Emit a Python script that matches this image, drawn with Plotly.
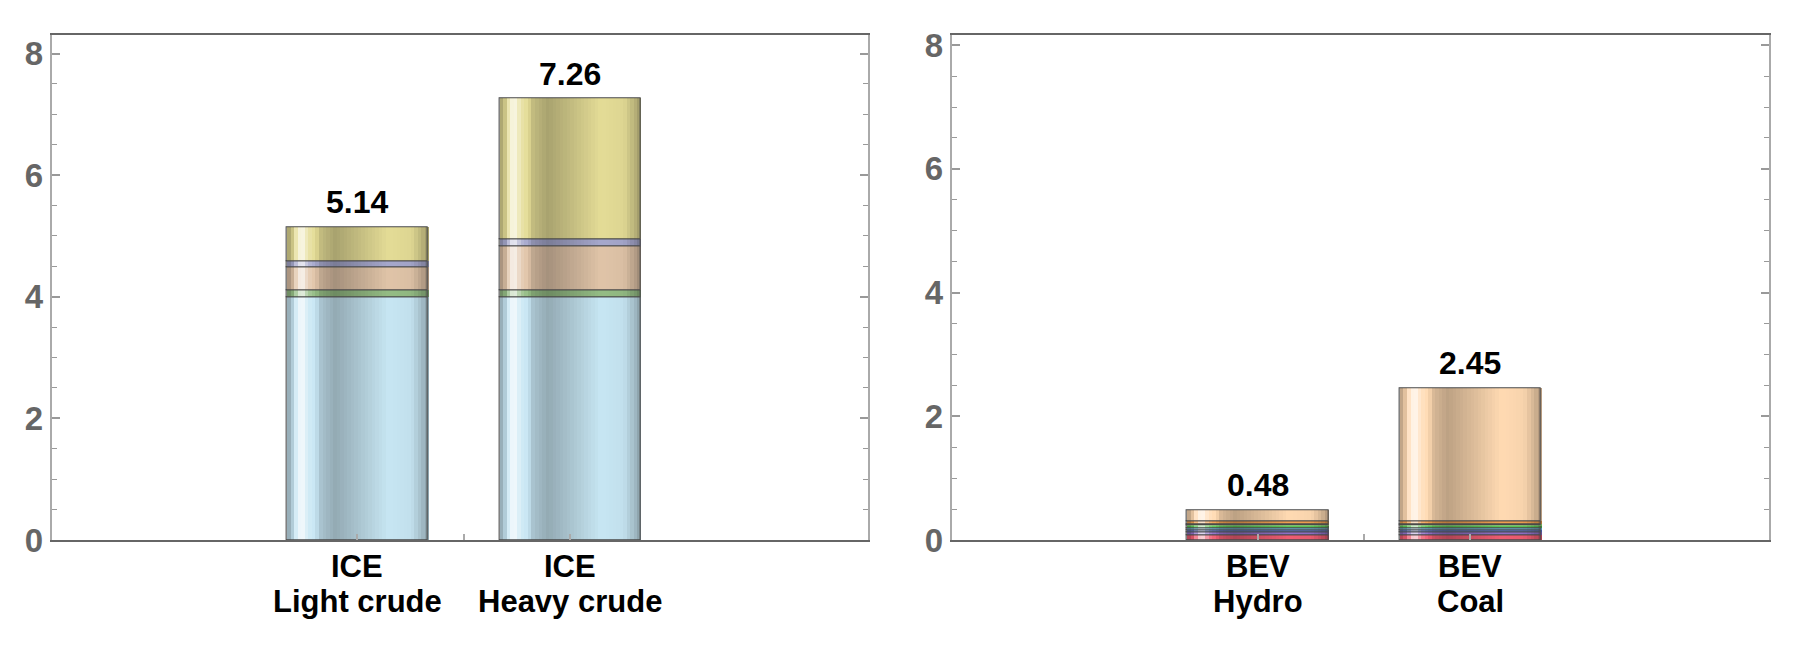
import plotly.graph_objects as go

# ---------------- data ----------------
left_categories = ["ICE<br>Light crude", "ICE<br>Heavy crude"]
right_categories = ["BEV<br>Hydro", "BEV<br>Coal"]

# left panel segments (bottom -> top)
ice_blue = [3.99, 3.99]
ice_green = [0.11, 0.11]
ice_tan = [0.38, 0.73]
ice_purple = [0.10, 0.12]
ice_yellow = [0.56, 2.31]

# right panel segments (bottom -> top)
bev_red = [0.08, 0.08]
bev_violet = [0.04, 0.04]
bev_blue = [0.04, 0.04]
bev_cyan = [0.03, 0.03]
bev_green = [0.04, 0.04]
bev_lightgreen = [0.02, 0.02]
bev_orange = [0.05, 0.05]
bev_peach = [0.18, 2.15]

y_ticks = [0, 2, 4, 6, 8]

# ---------------- styles ----------------
left_series = [
    (ice_blue, "#C7E6F3"),
    (ice_green, "#94BC84"),
    (ice_tan, "#E0C4A8"),
    (ice_purple, "#A6A8CC"),
    (ice_yellow, "#E4DC96"),
]
right_series = [
    (bev_red, "#EE5C72"),
    (bev_violet, "#8E70C8"),
    (bev_blue, "#5A7CD8"),
    (bev_cyan, "#6EC8F0"),
    (bev_green, "#58C858"),
    (bev_lightgreen, "#9AE67A"),
    (bev_orange, "#F2A050"),
    (bev_peach, "#FFDAB2"),
]

N_SLICES = 40
BAR_W = 0.664
profile = [(0.0, 0.70), (0.04, 0.90), (0.10, 1.85), (0.15, 1.20), (0.24, 0.84),
           (0.34, 0.74), (0.52, 0.86), (0.72, 1.0), (0.88, 0.97), (0.96, 0.80), (1.0, 0.68)]


def prof(t):
    for (t0, v0), (t1, v1) in zip(profile[:-1], profile[1:]):
        if t0 <= t <= t1:
            return v0 + (v1 - v0) * (t - t0) / (t1 - t0)
    return profile[-1][1]


def hex2rgb(h):
    h = h.lstrip("#")
    return [int(h[i:i + 2], 16) for i in (0, 2, 4)]


def shade(hexc, v):
    r = hex2rgb(hexc)
    if v <= 1:
        c = [x * v for x in r]
    else:
        f = min(v - 1, 1)
        c = [x + (255 - x) * f for x in r]
    c = [max(0, min(255, int(round(x)))) for x in c]
    return "rgb(%d,%d,%d)" % tuple(c)


FONT = "Liberation Sans, Arial, Helvetica"
fig = go.Figure()


def add_panel(series, cats, xa, ya):
    xs = [i + 1 for i in range(len(cats))]
    base = [0.0] * len(cats)
    for vals, col in series:
        for k in range(N_SLICES):
            t = (k + 0.5) / N_SLICES
            fig.add_trace(go.Bar(
                x=xs, y=vals, base=list(base),
                width=BAR_W / N_SLICES * 1.15,
                offset=-BAR_W / 2 + k * BAR_W / N_SLICES,
                marker=dict(color=shade(col, prof(t)), line=dict(width=0)),
                xaxis=xa, yaxis=ya, showlegend=False, hoverinfo="skip"))
        # outline of segment
        fig.add_trace(go.Bar(
            x=xs, y=vals, base=list(base), width=BAR_W,
            marker=dict(color="rgba(0,0,0,0)", line=dict(width=1.1, color="#4a4a4a")),
            xaxis=xa, yaxis=ya, showlegend=False, hoverinfo="skip"))
        base = [b + v for b, v in zip(base, vals)]
    # totals above bars
    for x, tot in zip(xs, base):
        fig.add_annotation(x=x, y=tot, xref=xa, yref=ya, text="<b>%.2f</b>" % tot,
                           showarrow=False, yanchor="middle", yshift=25,
                           font=dict(size=32, color="black", family=FONT))
    # category labels (two lines) below axis
    for x, cat in zip(xs, cats):
        for j, line in enumerate(cat.split("<br>")):
            fig.add_annotation(x=x, y=0, xref=xa, yref=ya, text="<b>%s</b>" % line,
                               showarrow=False, yanchor="middle", yshift=-26 - 35.5 * j,
                               font=dict(size=31, color="black", family=FONT))
    return xs


xs_l = add_panel(left_series, left_categories, "x", "y")
xs_r = add_panel(right_series, right_categories, "x2", "y2")

OFF = 8.0          # body margin of the html page
W = 1800.0 - OFF
H = 651.0 - OFF


def px_x(p):
    return (p - OFF) / W


def px_y(p):
    return (H - (p - OFF)) / H


ydom = [px_y(540.0), px_y(35.3)]


def xaxis_cfg(dom, xs):
    return dict(domain=dom, range=[-0.439, 3.404],
                tickvals=[xs[0], (xs[0] + xs[1]) / 2, xs[1]],
                ticktext=["", "", ""],
                ticks="inside", ticklen=6, tickwidth=1.5, tickcolor="#aaaaaa",
                showline=True, linecolor="#666666", linewidth=1.5, mirror=True,
                showgrid=False, zeroline=False, automargin=False)


def yaxis_cfg(rng):
    return dict(domain=ydom, range=rng, tickvals=y_ticks,
                ticks="inside", ticklen=8, tickwidth=1.5, tickcolor="#999999",
                minor=dict(dtick=0.5, ticks="inside", ticklen=5, tickwidth=1.2, tickcolor="#999999"),
                showline=True, linecolor="#aaaaaa", linewidth=2, mirror="ticks",
                showgrid=False, zeroline=False, automargin=False, ticklabelstandoff=0,
                tickfont=dict(size=33, color="#666666", family=FONT, weight="bold"))


xl = xaxis_cfg([px_x(51.7), px_x(868.3)], xs_l)
xl["anchor"] = "y"
xr = xaxis_cfg([px_x(951.7), px_x(1768.7)], xs_r)
xr["anchor"] = "y2"
yl = yaxis_cfg([0, 8.30])
yl["anchor"] = "x"
yr = yaxis_cfg([0, 8.16])
yr["anchor"] = "x2"

fig.update_layout(
    width=int(W), height=int(H),
    margin=dict(l=0, r=0, t=0, b=0),
    paper_bgcolor="white", plot_bgcolor="white",
    barmode="overlay", bargap=0,
    xaxis=xl, yaxis=yl, xaxis2=xr, yaxis2=yr,
    showlegend=False,
)

fig.write_html("out.html")
